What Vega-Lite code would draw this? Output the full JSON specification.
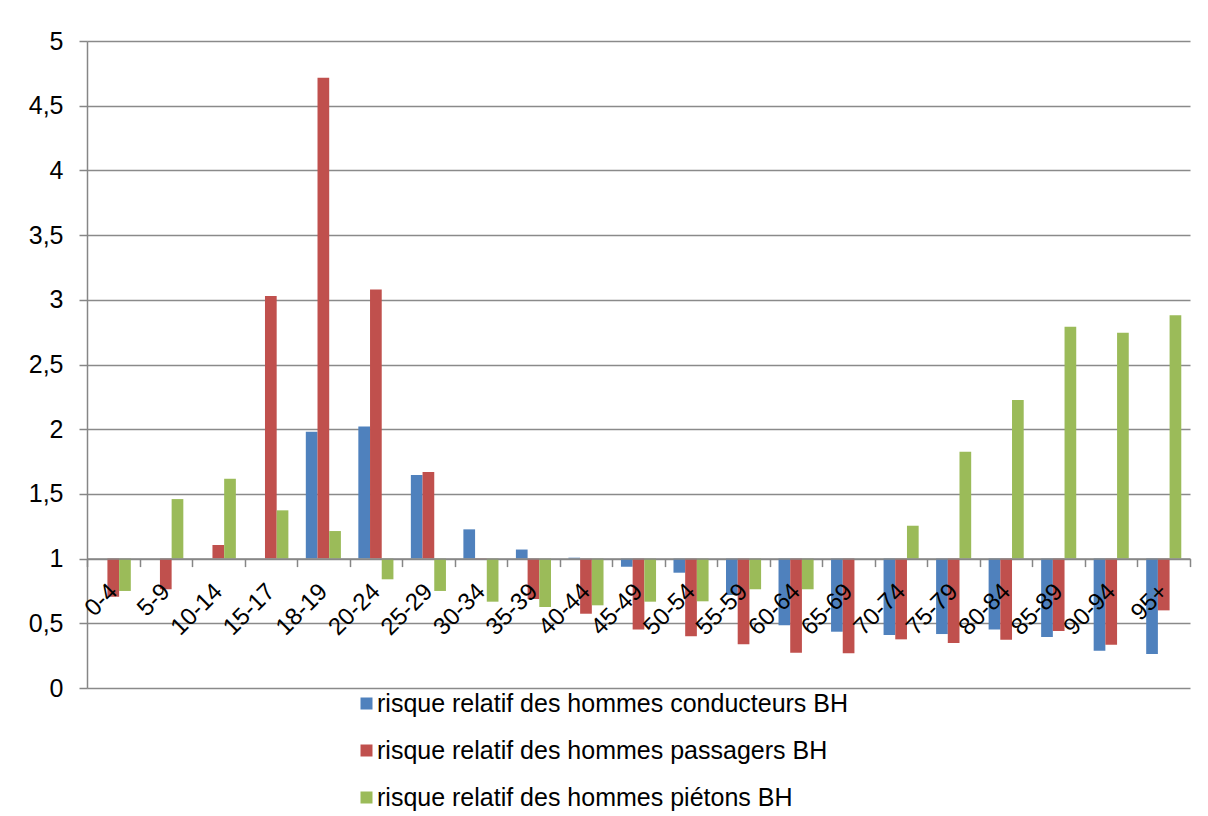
{
  "$schema": "https://vega.github.io/schema/vega-lite/v6.json",
  "autosize": {"type": "none"},
  "padding": {"left": 87, "top": 41, "right": 18, "bottom": 128},
  "width": 1103,
  "height": 647,
  "background": "white",
  "config": {
    "view": {"stroke": null},
    "font": "Liberation Sans"
  },
  "data": {
    "values": [
      {"age": "18-19", "s": "risque relatif des hommes conducteurs BH", "v": 1.98},
      {"age": "20-24", "s": "risque relatif des hommes conducteurs BH", "v": 2.02},
      {"age": "25-29", "s": "risque relatif des hommes conducteurs BH", "v": 1.646},
      {"age": "30-34", "s": "risque relatif des hommes conducteurs BH", "v": 1.226},
      {"age": "35-39", "s": "risque relatif des hommes conducteurs BH", "v": 1.07},
      {"age": "40-44", "s": "risque relatif des hommes conducteurs BH", "v": 1.007},
      {"age": "45-49", "s": "risque relatif des hommes conducteurs BH", "v": 0.937},
      {"age": "50-54", "s": "risque relatif des hommes conducteurs BH", "v": 0.891},
      {"age": "55-59", "s": "risque relatif des hommes conducteurs BH", "v": 0.719},
      {"age": "60-64", "s": "risque relatif des hommes conducteurs BH", "v": 0.485},
      {"age": "65-69", "s": "risque relatif des hommes conducteurs BH", "v": 0.435},
      {"age": "70-74", "s": "risque relatif des hommes conducteurs BH", "v": 0.41},
      {"age": "75-79", "s": "risque relatif des hommes conducteurs BH", "v": 0.417},
      {"age": "80-84", "s": "risque relatif des hommes conducteurs BH", "v": 0.453},
      {"age": "85-89", "s": "risque relatif des hommes conducteurs BH", "v": 0.394},
      {"age": "90-94", "s": "risque relatif des hommes conducteurs BH", "v": 0.288},
      {"age": "95+", "s": "risque relatif des hommes conducteurs BH", "v": 0.263},

      {"age": "0-4", "s": "risque relatif des hommes passagers BH", "v": 0.706},
      {"age": "5-9", "s": "risque relatif des hommes passagers BH", "v": 0.763},
      {"age": "10-14", "s": "risque relatif des hommes passagers BH", "v": 1.105},
      {"age": "15-17", "s": "risque relatif des hommes passagers BH", "v": 3.03},
      {"age": "18-19", "s": "risque relatif des hommes passagers BH", "v": 4.716},
      {"age": "20-24", "s": "risque relatif des hommes passagers BH", "v": 3.08},
      {"age": "25-29", "s": "risque relatif des hommes passagers BH", "v": 1.67},
      {"age": "30-34", "s": "risque relatif des hommes passagers BH", "v": 0.995},
      {"age": "35-39", "s": "risque relatif des hommes passagers BH", "v": 0.688},
      {"age": "40-44", "s": "risque relatif des hommes passagers BH", "v": 0.574},
      {"age": "45-49", "s": "risque relatif des hommes passagers BH", "v": 0.453},
      {"age": "50-54", "s": "risque relatif des hommes passagers BH", "v": 0.40},
      {"age": "55-59", "s": "risque relatif des hommes passagers BH", "v": 0.338},
      {"age": "60-64", "s": "risque relatif des hommes passagers BH", "v": 0.273},
      {"age": "65-69", "s": "risque relatif des hommes passagers BH", "v": 0.268},
      {"age": "70-74", "s": "risque relatif des hommes passagers BH", "v": 0.376},
      {"age": "75-79", "s": "risque relatif des hommes passagers BH", "v": 0.348},
      {"age": "80-84", "s": "risque relatif des hommes passagers BH", "v": 0.373},
      {"age": "85-89", "s": "risque relatif des hommes passagers BH", "v": 0.44},
      {"age": "90-94", "s": "risque relatif des hommes passagers BH", "v": 0.335},
      {"age": "95+", "s": "risque relatif des hommes passagers BH", "v": 0.60},

      {"age": "0-4", "s": "risque relatif des hommes piétons BH", "v": 0.75},
      {"age": "5-9", "s": "risque relatif des hommes piétons BH", "v": 1.46},
      {"age": "10-14", "s": "risque relatif des hommes piétons BH", "v": 1.617},
      {"age": "15-17", "s": "risque relatif des hommes piétons BH", "v": 1.373},
      {"age": "18-19", "s": "risque relatif des hommes piétons BH", "v": 1.213},
      {"age": "20-24", "s": "risque relatif des hommes piétons BH", "v": 0.84},
      {"age": "25-29", "s": "risque relatif des hommes piétons BH", "v": 0.75},
      {"age": "30-34", "s": "risque relatif des hommes piétons BH", "v": 0.667},
      {"age": "35-39", "s": "risque relatif des hommes piétons BH", "v": 0.626},
      {"age": "40-44", "s": "risque relatif des hommes piétons BH", "v": 0.639},
      {"age": "45-49", "s": "risque relatif des hommes piétons BH", "v": 0.667},
      {"age": "50-54", "s": "risque relatif des hommes piétons BH", "v": 0.67},
      {"age": "55-59", "s": "risque relatif des hommes piétons BH", "v": 0.763},
      {"age": "60-64", "s": "risque relatif des hommes piétons BH", "v": 0.763},
      {"age": "65-69", "s": "risque relatif des hommes piétons BH", "v": 1.0},
      {"age": "70-74", "s": "risque relatif des hommes piétons BH", "v": 1.254},
      {"age": "75-79", "s": "risque relatif des hommes piétons BH", "v": 1.825},
      {"age": "80-84", "s": "risque relatif des hommes piétons BH", "v": 2.226},
      {"age": "85-89", "s": "risque relatif des hommes piétons BH", "v": 2.791},
      {"age": "90-94", "s": "risque relatif des hommes piétons BH", "v": 2.745},
      {"age": "95+", "s": "risque relatif des hommes piétons BH", "v": 2.88}
    ]
  },
  "mark": {"type": "bar"},
  "encoding": {
    "x": {
      "field": "age",
      "type": "nominal",
      "sort": ["0-4","5-9","10-14","15-17","18-19","20-24","25-29","30-34","35-39","40-44","45-49","50-54","55-59","60-64","65-69","70-74","75-79","80-84","85-89","90-94","95+"],
      "scale": {"paddingInner": 0, "paddingOuter": 0},
      "axis": {
        "title": null,
        "zindex": 1,
        "offset": -129.4,
        "tickBand": "extent",
        "domainColor": "#868686",
        "domainWidth": 1.5,
        "tickColor": "#868686",
        "tickWidth": 1.5,
        "tickSize": 8,
        "labelAngle": -45,
        "labelAlign": "right",
        "labelBaseline": "middle",
        "labelPadding": 21,
        "labelOffset": 0,
        "labelFontSize": 24,
        "labelColor": "#000000",
        "labelFont": "Liberation Sans",
        "grid": false
      }
    },
    "xOffset": {
      "field": "s",
      "type": "nominal",
      "sort": ["risque relatif des hommes conducteurs BH","risque relatif des hommes passagers BH","risque relatif des hommes piétons BH"],
      "scale": {"paddingInner": 0, "paddingOuter": 0.745}
    },
    "y": {
      "field": "v",
      "type": "quantitative",
      "scale": {"domain": [0, 5], "nice": false, "zero": true},
      "axis": {
        "title": null,
        "values": [0, 0.5, 1, 1.5, 2, 2.5, 3, 3.5, 4, 4.5, 5],
        "labelExpr": "replace(format(datum.value, '.1~f'), '.', ',')",
        "grid": true,
        "gridColor": "#8a8a8a",
        "gridWidth": 1.5,
        "domainColor": "#868686",
        "domainWidth": 1.5,
        "tickColor": "#868686",
        "tickWidth": 1.5,
        "tickSize": 8,
        "labelPadding": 16,
        "labelFontSize": 25,
        "labelColor": "#000000",
        "labelFont": "Liberation Sans"
      }
    },
    "y2": {"datum": 1},
    "color": {
      "field": "s",
      "type": "nominal",
      "scale": {
        "domain": ["risque relatif des hommes conducteurs BH","risque relatif des hommes passagers BH","risque relatif des hommes piétons BH"],
        "range": ["#4F81BD", "#C0504D", "#9BBB59"]
      },
      "legend": {
        "title": null,
        "orient": "none",
        "legendX": 267,
        "legendY": 650,
        "direction": "vertical",
        "symbolType": "square",
        "symbolSize": 144,
        "symbolStrokeWidth": 0,
        "labelFontSize": 25,
        "labelFont": "Liberation Sans",
        "labelColor": "#000000",
        "labelOffset": -2,
        "rowPadding": 21,
        "labelLimit": 0
      }
    }
  }
}
